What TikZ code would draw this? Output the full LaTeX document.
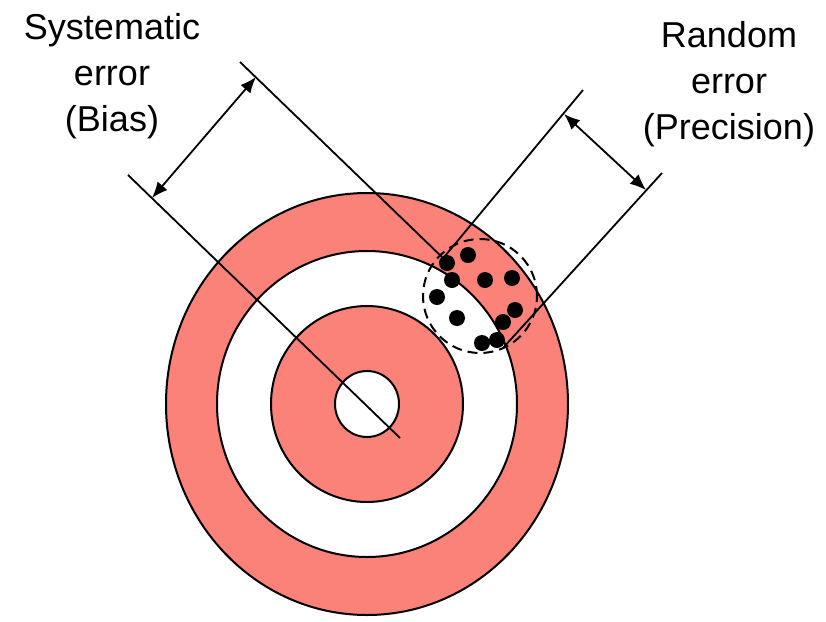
\documentclass[tikz,border=0pt]{standalone}
\usepackage{fontspec}
\setmainfont{Liberation Sans}
\usetikzlibrary{arrows.meta, calc}

\definecolor{ringred}{RGB}{250,130,120}

\begin{document}
\begin{tikzpicture}[x=0.5pt, y=0.5pt,
  ring/.style={draw=black, line width=1pt},
  guide/.style={draw=black, line width=0.9pt},
  dimarrow/.style={guide, {Latex[length=8pt,width=6.5pt]}-{Latex[length=8pt,width=6.5pt]}},
  shot/.style={fill=black},
  errlabel/.style={align=center, inner sep=0pt, font=\fontsize{18}{23}\selectfont},
]
\useasboundingbox (0,0) rectangle (826,-622);

% --- target ---
\coordinate (ctr) at (367,-404);
\filldraw[ring, fill=ringred] (ctr) ellipse [x radius=201, y radius=211];
\filldraw[ring, fill=white] (ctr) ellipse [x radius=150, y radius=153];
\filldraw[ring, fill=ringred] (ctr) ellipse [x radius=96, y radius=98];
\filldraw[ring, fill=white] (ctr) ellipse [x radius=32, y radius=33];

% --- spread of the shots ---
\coordinate (spread) at (480,-296);
\draw[line width=1pt, dash pattern=on 5pt off 3pt] (spread) circle [radius=57];

% --- bias lines ---
\coordinate (b1s) at (128,-175);
\coordinate (b1e) at (400,-438);
\coordinate (b2s) at (240,-62);
\coordinate (b2e) at (443,-258);
\draw[guide] (b1s) -- (b1e);
\draw[guide] (b2s) -- (b2e);
\coordinate (ba1) at (152,-198);
\coordinate (ba2) at (256,-77);
\draw[dimarrow] (ba1) -- (ba2);

% --- precision lines ---
\coordinate (p1s) at (583,-90);
\coordinate (p1e) at (440,-262);
\coordinate (p2s) at (662,-173);
\coordinate (p2e) at (503,-348);
\draw[guide] (p1s) -- (p1e);
\draw[guide] (p2s) -- (p2e);
\coordinate (pa1) at (564,-114);
\coordinate (pa2) at (646,-190);
\draw[dimarrow] (pa1) -- (pa2);

% --- shots ---
\foreach \sx/\sy in {
  468/255, 447/263, 452/280, 485/280, 512/278, 437/297,
  457/318, 515/310, 503/322, 482/343, 497/340}
{
  \fill[shot] (\sx,-\sy) circle [radius=8];
}

% --- labels ---
\node[errlabel] (sys) at (112,-76) {Systematic\\error\\(Bias)};
\node[errlabel] (rnd) at (729,-84) {Random\\error\\(Precision)};

\end{tikzpicture}
\end{document}
